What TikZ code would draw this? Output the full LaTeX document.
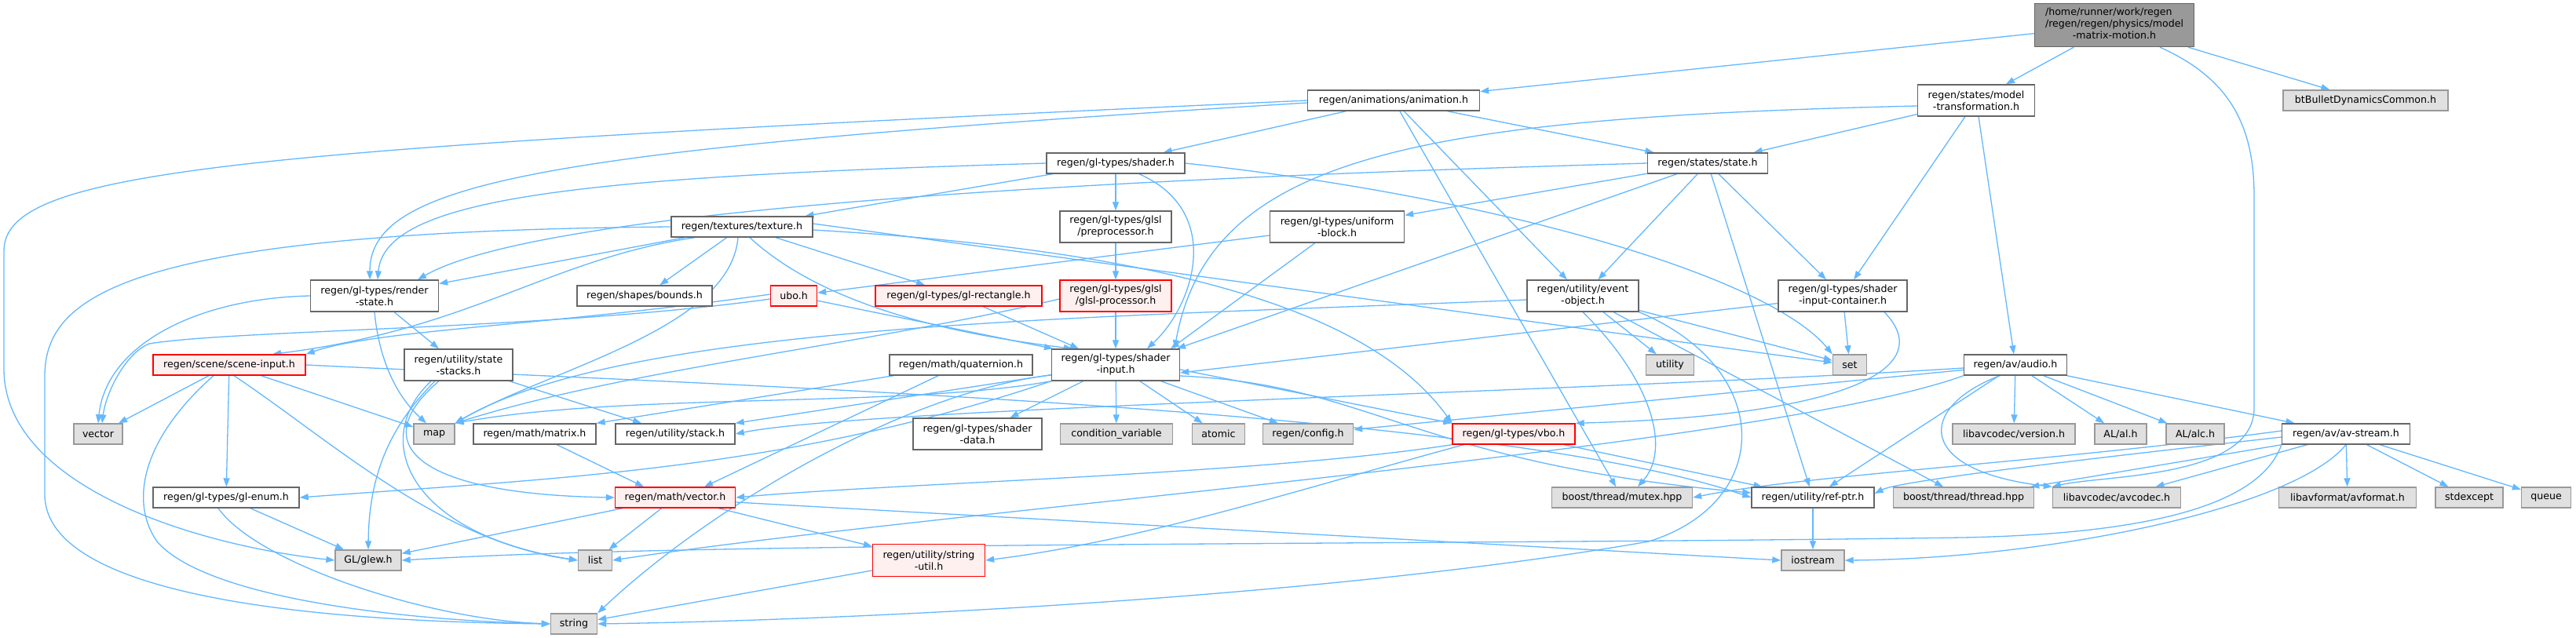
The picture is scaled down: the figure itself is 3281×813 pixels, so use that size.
\documentclass[tikz,border=0pt]{standalone}
\usepackage{fontspec}
\setmainfont{DejaVu Sans}
\usetikzlibrary{arrows.meta}
\definecolor{edgec}{HTML}{63B8FF}
\definecolor{bord}{HTML}{666666}
\definecolor{gbord}{HTML}{999999}
\definecolor{gfill}{HTML}{E0E0E0}
\definecolor{rbord}{HTML}{FF0000}
\definecolor{rfill}{HTML}{FFF0F0}
\definecolor{rootfill}{HTML}{999999}
\pgfdeclarelayer{bgl}
\pgfdeclarelayer{edgel}
\pgfsetlayers{bgl,edgel,main}
\begin{document}
\begin{tikzpicture}[x=1pt,y=-1pt,
  nd/.style={draw=bord, fill=white, line width=1.4pt, inner xsep=2pt, inner ysep=0pt, minimum height=26pt, align=center, font=\fontsize{12.6}{15}\selectfont, text=black},
  sys/.style={nd, draw=gbord, fill=gfill},
  trc/.style={nd, draw=rbord, fill=rfill},
  two/.style={minimum height=40pt},
  mw/.style={minimum width=#1pt},
  e/.style={draw=edgec, line width=1.3pt, -{Triangle[length=11pt,width=8pt]}},
]
\begin{pgfonlayer}{bgl}
\fill[white] (0,0) rectangle (3281,813);
\end{pgfonlayer}
\useasboundingbox (0,0) rectangle (3281,813);

% nodes
\node[nd, fill=rootfill, mw=203, minimum height=55pt] (root) at (2693,32) {\begin{tabular}{@{}l@{}}/home/runner/work/regen\\/regen/regen/physics/model\\\multicolumn{1}{@{}c@{}}{-matrix-motion.h}\end{tabular}};
\node[nd, mw=219] (anim) at (1775,128) {regen/animations/animation.h};
\node[nd, two, mw=149] (modeltr) at (2517,128) {regen/states/model\\-transformation.h};
\node[sys, mw=210] (bullet) at (3013,128) {btBulletDynamicsCommon.h};
\node[nd, mw=176] (shader) at (1421,208) {regen/gl-types/shader.h};
\node[nd, mw=153] (state) at (2175,208) {regen/states/state.h};
\node[nd, mw=180] (texture) at (945,289) {regen/textures/texture.h};
\node[nd, two, mw=142] (preproc) at (1421,289) {regen/gl-types/glsl\\/preprocessor.h};
\node[nd, two, mw=171] (ublock) at (1703,289) {regen/gl-types/uniform\\-block.h};
\node[nd, two, mw=163] (renderstate) at (477,377) {regen/gl-types/render\\-state.h};
\node[nd, mw=172] (bounds) at (821,377) {regen/shapes/bounds.h};
\node[trc, mw=59] (ubo) at (1011,377) {ubo.h};
\node[trc, mw=212] (glrect) at (1221,377) {regen/gl-types/gl-rectangle.h};
\node[trc, two, mw=142] (glslproc) at (1421,377) {regen/gl-types/glsl\\/glsl-processor.h};
\node[nd, two, mw=142] (eventobj) at (2016,377) {regen/utility/event\\-object.h};
\node[nd, two, mw=164] (sicont) at (2347,377) {regen/gl-types/shader\\-input-container.h};
\node[trc, mw=194] (sceneinput) at (292,465) {regen/scene/scene-input.h};
\node[nd, two, mw=138] (statestacks) at (584,465) {regen/utility/state\\-stacks.h};
\node[nd, mw=182] (quat) at (1224,465) {regen/math/quaternion.h};
\node[nd, two, mw=163] (shaderinput) at (1421,465) {regen/gl-types/shader\\-input.h};
\node[sys, mw=61] (utility) at (2127,465) {utility};
\node[sys, mw=43] (set) at (2356,465) {set};
\node[nd, mw=131] (audio) at (2567,465) {regen/av/audio.h};
\node[sys, mw=62] (vector) at (125,553) {vector};
\node[sys, mw=52] (map) at (553,553) {map};
\node[nd, mw=156] (matrix) at (681,553) {regen/math/matrix.h};
\node[nd, mw=152] (stack) at (860,553) {regen/utility/stack.h};
\node[nd, two, mw=164] (shaderdata) at (1245,553) {regen/gl-types/shader\\-data.h};
\node[sys, mw=143] (condvar) at (1422,553) {condition\_variable};
\node[sys, mw=67] (atomic) at (1552,553) {atomic};
\node[sys, mw=115] (config) at (1666,553) {regen/config.h};
\node[trc, mw=156] (vbo) at (1928,553) {regen/gl-types/vbo.h};
\node[sys, mw=156] (version) at (2565,553) {libavcodec/version.h};
\node[sys, mw=66] (al) at (2701,553) {AL/al.h};
\node[sys, mw=74] (alc) at (2796,553) {AL/alc.h};
\node[nd, mw=163] (avstream) at (2988,553) {regen/av/av-stream.h};
\node[nd, mw=186] (glenum) at (288,634) {regen/gl-types/gl-enum.h};
\node[trc, mw=153] (mvector) at (860,634) {regen/math/vector.h};
\node[sys, mw=179] (mutex) at (2066,634) {boost/thread/mutex.hpp};
\node[nd, mw=156] (refptr) at (2309,634) {regen/utility/ref-ptr.h};
\node[sys, mw=179] (thread) at (2501,634) {boost/thread/thread.hpp};
\node[sys, mw=163] (avcodec) at (2696,634) {libavcodec/avcodec.h};
\node[sys, mw=175] (avformat) at (2990,634) {libavformat/avformat.h};
\node[sys, mw=86] (stdexcept) at (3145,634) {stdexcept};
\node[sys, mw=63] (queue) at (3243,634) {queue};
\node[sys, mw=84] (glew) at (469,714) {GL/glew.h};
\node[sys, mw=43] (list) at (758,714) {list};
\node[trc, minimum height=41pt, mw=143] (strutil) at (1183,714) {regen/utility/string\\-util.h};
\node[sys, mw=80] (iostream) at (2309,714) {iostream};
\node[sys, mw=59] (string) at (731,795) {string};

\begin{pgfonlayer}{edgel}
% root
\draw[e] (root) -- (anim);
\draw[e] (root) -- (modeltr);
\draw[e] (root) -- (bullet);
\draw[e] ([xshift=58pt]root.south) .. controls (2840,100) and (2871,160) .. (2871,250) -- (2871,520) .. controls (2871,610) and (2680,605) .. (avcodec.north west);
% model-transformation
\draw[e] (modeltr) -- (state);
\draw[e] (modeltr) -- (sicont);
\draw[e] (modeltr) -- (audio);
\draw[e] ([yshift=-7pt]modeltr.west) .. controls (1800,150) and (1540,200) .. ([xshift=75pt]shaderinput.north);
% animation
\draw[e] (anim.west) .. controls (300,190) and (5,215) .. (5,320) -- (5,470) .. controls (5,620) and (250,695) .. (glew.west);
\draw[e] ([yshift=-3pt]anim.west) .. controls (700,190) and (471,230) .. ([xshift=-6pt]renderstate.north);
\draw[e] (anim) -- (shader);
\draw[e] (anim) -- (state);
\draw[e] (anim) -- (eventobj);
\draw[e] (anim) -- (mutex);
% shader
\draw[e] (shader.west) .. controls (750,225) and (490,250) .. ([xshift=4pt]renderstate.north);
\draw[e] (shader) -- (texture);
\draw[e] (shader) -- (preproc);
\draw[e] ([xshift=30pt]shader.south) .. controls (1560,270) and (1520,390) .. ([xshift=40pt]shaderinput.north);
\draw[e] (shader.east) .. controls (1900,250) and (2250,350) .. (set.north west);
% texture
\draw[e] (texture) -- (renderstate);
\draw[e] ([xshift=-60pt]texture.south) .. controls (700,330) and (600,420) .. ([xshift=55pt]sceneinput.north);
\draw[e] ([xshift=-5pt]texture.south) .. controls (930,420) and (700,470) .. (map.north east);
\draw[e] (texture) -- (bounds);
\draw[e] (texture) -- (glrect);
\draw[e] ([xshift=10pt]texture.south) .. controls (1060,400) and (1250,430) .. ([xshift=-55pt]shaderinput.north);
\draw[e] ([yshift=-4pt]texture.east) .. controls (1500,320) and (1750,400) .. (vbo.north west);
\draw[e] ([yshift=4pt]texture.east) -- (set);
\draw[e] (texture.west) .. controls (150,295) and (57,380) .. (57,480) -- (57,630) .. controls (57,760) and (400,792) .. (string.west);
% preprocessor / glsl
\draw[e] (preproc) -- (glslproc);
\draw[e] (glslproc) -- (shaderinput);
\draw[e] ([yshift=-4pt]glslproc.west) .. controls (1100,440) and (800,470) .. (map.north east);
% uniform block
\draw[e] (ublock) -- (ubo);
\draw[e] (ublock) -- ([xshift=70pt]shaderinput.north);
% ubo
\draw[e] (ubo) -- ([xshift=-80pt]shaderinput.north);
\draw[e] ([yshift=-4pt]ubo.west) .. controls (700,420) and (300,420) .. (190,438) .. controls (160,450) and (135,500) .. ([xshift=5pt]vector.north);
\draw[e] ([yshift=2pt]ubo.west) .. controls (700,415) and (480,420) .. (sceneinput.north east);
% gl-rectangle
\draw[e] (glrect) -- (shaderinput);
% state
\draw[e] (state.west) .. controls (1500,225) and (700,260) .. ([xshift=55pt]renderstate.north);
\draw[e] (state) -- (ublock);
\draw[e] (state) -- ([xshift=78pt]shaderinput.north);
\draw[e] (state) -- (eventobj);
\draw[e] (state) -- (sicont);
\draw[e] (state) -- (refptr);
% event object
\draw[e] (eventobj) -- (utility);
\draw[e] (eventobj) -- (set);
\draw[e] (eventobj.south) .. controls (2100,480) and (2130,570) .. ([xshift=20pt]mutex.north);
\draw[e] (eventobj) -- (thread);
\draw[e] ([yshift=-5pt]eventobj.west) .. controls (1400,405) and (800,410) .. (map.north east);
\draw[e] (eventobj.south east) .. controls (2260,470) and (2260,640) .. (2100,690) .. controls (1700,760) and (1100,790) .. (string.east);
% shader input container
\draw[e] (sicont) -- ([yshift=-10pt]shaderinput.east);
\draw[e] (sicont) -- (set);
\draw[e] ([xshift=53pt]sicont.south) .. controls (2470,470) and (2350,530) .. (vbo.north east);
% scene input
\draw[e] (sceneinput) -- (vector);
\draw[e] (sceneinput) -- (glenum);
\draw[e] (sceneinput) -- (map);
\draw[e] ([xshift=6pt]sceneinput.south) .. controls (420,560) and (560,690) .. (list.west);
\draw[e] ([xshift=-20pt]sceneinput.south) .. controls (180,560) and (165,640) .. (200,690) .. controls (260,760) and (500,790) .. (string.west);
\draw[e] (sceneinput.east) .. controls (900,490) and (1900,520) .. (refptr.west);
% state stacks
\draw[e] (statestacks) -- (stack);
\draw[e] ([xshift=-30pt]statestacks.south) .. controls (500,540) and (470,600) .. (glew.north);
\draw[e] ([xshift=-35pt]statestacks.south) .. controls (470,560) and (520,680) .. (list.west);
\draw[e] ([xshift=-25pt]statestacks.south) .. controls (460,570) and (540,630) .. (mvector.west);
% quaternion
\draw[e] (quat) -- ([xshift=37pt]mvector.north);
\draw[e] (quat) -- (matrix.north east);
% shader input
\draw[e] (shaderinput.south west) .. controls (1150,520) and (800,500) .. (map.north east);
\draw[e] (shaderinput) -- (stack.north east);
\draw[e] (shaderinput) -- (shaderdata);
\draw[e] (shaderinput) -- (condvar);
\draw[e] (shaderinput) -- (atomic);
\draw[e] (shaderinput) -- (config);
\draw[e] ([yshift=-6pt]shaderinput.east) -- (vbo.north west);
\draw[e] ([yshift=-14pt]shaderinput.east) .. controls (1750,490) and (1800,590) .. ([yshift=6pt]refptr.west);
\draw[e] ([yshift=-13pt]shaderinput.west) .. controls (1150,500) and (900,650) .. (string.north east);
\draw[e] (shaderinput.south west) .. controls (1000,600) and (700,610) .. (glenum.east);
% audio
\draw[e] (audio) -- (config);
\draw[e] ([yshift=-4pt]audio.west) .. controls (2000,500) and (1100,520) .. (stack.east);
\draw[e] (audio) -- (version);
\draw[e] (audio) -- (al);
\draw[e] (audio) -- (alc);
\draw[e] (audio) -- (avstream);
\draw[e] ([xshift=-20pt]audio.south) .. controls (2440,520) and (2440,600) .. (avcodec.north west);
\draw[e] (audio) -- (refptr);
\draw[e] (audio.south west) .. controls (2250,570) and (1200,650) .. (list.east);
% av stream
\draw[e] ([yshift=-4pt]avstream.west) .. controls (2700,580) and (2420,612) .. ([yshift=5pt]refptr.east);
\draw[e] ([yshift=4pt]avstream.west) .. controls (2600,590) and (2300,605) .. (mutex.east);
\draw[e] (avstream) -- ([xshift=-5pt]thread.north east);
\draw[e] (avstream) -- (avcodec);
\draw[e] (avstream) -- (avformat);
\draw[e] (avstream) -- (stdexcept);
\draw[e] (avstream) -- (queue);
\draw[e] (avstream.south) .. controls (2920,650) and (2600,712) .. (iostream.east);
\draw[e] (avstream.south west) .. controls (2880,640) and (2750,680) .. (2500,685) .. controls (1800,695) and (900,690) .. (glew.east);
% vbo
\draw[e] (vbo) -- (refptr);
\draw[e] (vbo.south west) .. controls (1600,605) and (1150,615) .. (mvector.east);
\draw[e] ([xshift=15pt]vbo.south west) .. controls (1650,625) and (1450,690) .. (strutil.east);
% render state
\draw[e] (renderstate.west) .. controls (250,380) and (135,440) .. (vector.north);
\draw[e] (renderstate.south) .. controls (482,450) and (500,500) .. ([xshift=-10pt]map.north);
\draw[e] (renderstate) -- (statestacks);
% matrix / vector
\draw[e] (matrix) -- ([xshift=-40pt]mvector.north);
\draw[e] (mvector) -- (glew);
\draw[e] (mvector) -- (list);
\draw[e] (mvector) -- (strutil);
\draw[e] ([yshift=-6pt]mvector.east) -- (iostream.west);
% misc
\draw[e] (refptr) -- (iostream);
\draw[e] (strutil) -- (string);
\draw[e] (glenum) -- (glew);
\draw[e] ([xshift=-10pt]glenum.south) .. controls (330,720) and (550,790) .. (string.west);
\end{pgfonlayer}
\end{tikzpicture}
\end{document}
